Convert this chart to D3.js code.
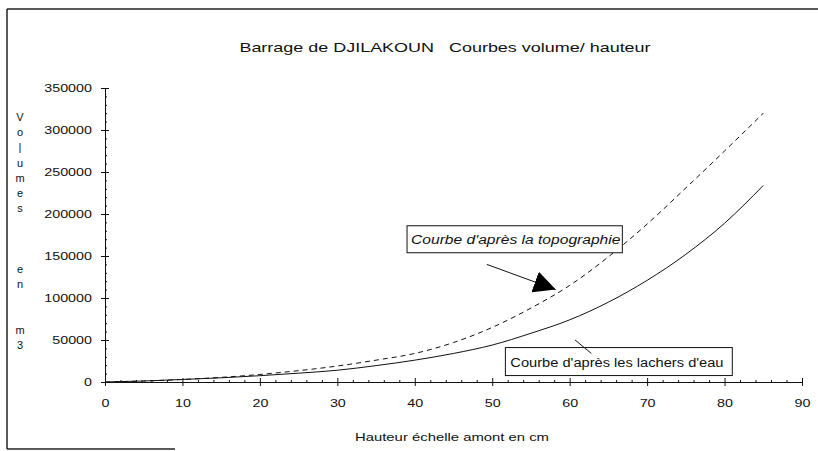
<!DOCTYPE html>
<html>
<head>
<meta charset="utf-8">
<script src="https://cdn.jsdelivr.net/npm/d3@7"></script>
<style>
  html, body { margin: 0; padding: 0; background: #fff; }
  svg { display: block; font-family: "Liberation Sans", Arial, sans-serif; }
  text { white-space: pre; }
</style>
</head>
<body>
<svg id="chart" width="818" height="451"></svg>
<script>
// ---- data ----
const hauteurs = [0, 5, 10, 15, 20, 25, 30, 35, 40, 45, 50, 55, 60, 65, 70, 75, 80, 85];
const volTopographie = [0, 1200, 3000, 5500, 9000, 13500, 19000, 26000, 34000, 47000, 65000, 88000, 115000, 149000, 188000, 231000, 275000, 320000];
const volLachers = [0, 1200, 3000, 5000, 7500, 10500, 14000, 19500, 26000, 34000, 44000, 58000, 74000, 95000, 121000, 152000, 189000, 234000];
const xTicks = [0, 10, 20, 30, 40, 50, 60, 70, 80, 90];
const yTicks = [0, 50000, 100000, 150000, 200000, 250000, 300000, 350000];
const titleText = "Barrage de DJILAKOUN   Courbes volume/ hauteur";
const xTitle = "Hauteur échelle amont en cm";
const yTitle = "Volumes   en  m3";
const labelTopo = "Courbe d'après la topographie";
const labelLachers = "Courbe d'après les lachers d'eau";

const svg = d3.select("#chart");
const x = d3.scaleLinear().domain([0, 90]).range([105, 802]);
const y = d3.scaleLinear().domain([0, 350000]).range([382, 88]);

function stretch(sel, f) {
  sel.each(function () {
    const w = this.getComputedTextLength();
    d3.select(this).attr("textLength", w * f).attr("lengthAdjust", "spacingAndGlyphs");
  });
}

// frame of the scanned chart area
const frame = svg.append("g").attr("stroke", "#222").attr("fill", "none");
frame.append("line").attr("x1", 7).attr("x2", 818).attr("y1", 9).attr("y2", 9).attr("stroke-width", 1.5);
frame.append("line").attr("x1", 7).attr("x2", 7).attr("y1", 9).attr("y2", 449).attr("stroke-width", 1.5);
frame.append("line").attr("x1", 7).attr("x2", 175).attr("y1", 449).attr("y2", 449).attr("stroke-width", 1.5);

// title
const t = svg.append("text").attr("x", 445).attr("y", 52).attr("text-anchor", "middle")
  .attr("font-size", 13.5).attr("fill", "#111").text(titleText);
stretch(t, 1.33);

// x axis
const gx = svg.append("g").attr("transform", `translate(0,${y(0)})`);
gx.call(d3.axisBottom(x).tickValues(xTicks).tickSize(0).tickPadding(17).tickFormat(d3.format("d")));
gx.select(".domain").attr("stroke", "#111");
gx.selectAll(".tick line").attr("y1", -4).attr("y2", 4).attr("stroke", "#111");
gx.selectAll(".tick text").attr("font-size", 11).attr("font-family", null).attr("fill", "#111");
stretch(gx.selectAll(".tick text"), 1.3);
const gxm = svg.append("g").attr("transform", `translate(0,${y(0)})`);
gxm.call(d3.axisBottom(x).tickValues(d3.range(0, 91, 2).filter(v => v % 10 !== 0)).tickSize(0).tickFormat(""));
gxm.select(".domain").remove();
gxm.selectAll(".tick line").attr("y1", -2).attr("y2", 0).attr("stroke", "#111");

// y axis
const gy = svg.append("g").attr("transform", `translate(${x(0)},0)`);
gy.call(d3.axisLeft(y).tickValues(yTicks).tickSize(0).tickPadding(13).tickFormat(d3.format("d")));
gy.select(".domain").attr("stroke", "#111");
gy.selectAll(".tick line").attr("x1", -4).attr("x2", 4).attr("stroke", "#111");
gy.selectAll(".tick text").attr("font-size", 11).attr("font-family", null).attr("fill", "#111");
stretch(gy.selectAll(".tick text"), 1.3);
const gym = svg.append("g").attr("transform", `translate(${x(0)},0)`);
gym.call(d3.axisLeft(y).tickValues(d3.range(0, 350001, 10000).filter(v => v % 50000 !== 0)).tickSize(0).tickFormat(""));
gym.select(".domain").remove();
gym.selectAll(".tick line").attr("x1", 0).attr("x2", 2).attr("stroke", "#111");

// axis titles
const xt = svg.append("text").attr("x", 452).attr("y", 441).attr("text-anchor", "middle")
  .attr("font-size", 11).attr("fill", "#111").text(xTitle);
stretch(xt, 1.35);
const yt = svg.append("g");
yt.selectAll("text").data(yTitle.split("")).join("text")
  .attr("x", 20).attr("y", (d, i) => 121 + i * 15.2)
  .attr("text-anchor", "middle").attr("font-size", 11).attr("fill", "#111")
  .text(d => d === " " ? "" : (d === "l" ? "|" : d));

// curves
const line = d3.line().x(d => x(d[0])).y(d => y(d[1])).curve(d3.curveMonotoneX);
svg.append("path").datum(hauteurs.map((h, i) => [h, volTopographie[i]]))
  .attr("d", line).attr("fill", "none").attr("stroke", "#111").attr("stroke-width", 1)
  .attr("stroke-dasharray", "5,4");
svg.append("path").datum(hauteurs.map((h, i) => [h, volLachers[i]]))
  .attr("d", line).attr("fill", "none").attr("stroke", "#111").attr("stroke-width", 1);

// annotations
const defs = svg.append("defs");
defs.append("marker").attr("id", "arrow").attr("viewBox", "0 0 10 10").attr("refX", 10).attr("refY", 5)
  .attr("markerWidth", 22).attr("markerHeight", 22).attr("markerUnits", "userSpaceOnUse").attr("orient", "auto")
  .append("path").attr("d", "M0,0 L10,5 L0,10 Z").attr("fill", "#000");

// topography label
const g1 = svg.append("g");
g1.append("rect").attr("x", x(39.0)).attr("y", y(186000)).attr("width", x(66.8) - x(39.0)).attr("height", 27)
  .attr("fill", "#fff").attr("stroke", "#111");
const l1 = g1.append("text").attr("x", x(39.0) + 4).attr("y", y(186000) + 18).attr("font-size", 12)
  .attr("font-style", "italic").attr("fill", "#111").text(labelTopo);
stretch(l1, 1.3);
svg.append("line").attr("x1", x(49.3)).attr("y1", y(140000)).attr("x2", x(58.2)).attr("y2", y(110000))
  .attr("stroke", "#111").attr("stroke-width", 1).attr("marker-end", "url(#arrow)");

// lachers label
const g2 = svg.append("g");
g2.append("rect").attr("x", x(51.7)).attr("y", y(41000)).attr("width", x(81.0) - x(51.7)).attr("height", 28)
  .attr("fill", "#fff").attr("stroke", "#111");
const l2 = g2.append("text").attr("x", x(51.7) + 5).attr("y", y(41000) + 19).attr("font-size", 12)
  .attr("fill", "#111").text(labelLachers);
stretch(l2, 1.22);
svg.append("line").attr("x1", x(60.7)).attr("y1", y(50000)).attr("x2", x(62.8)).attr("y2", y(34000))
  .attr("stroke", "#111").attr("stroke-width", 1);
</script>
</body>
</html>
